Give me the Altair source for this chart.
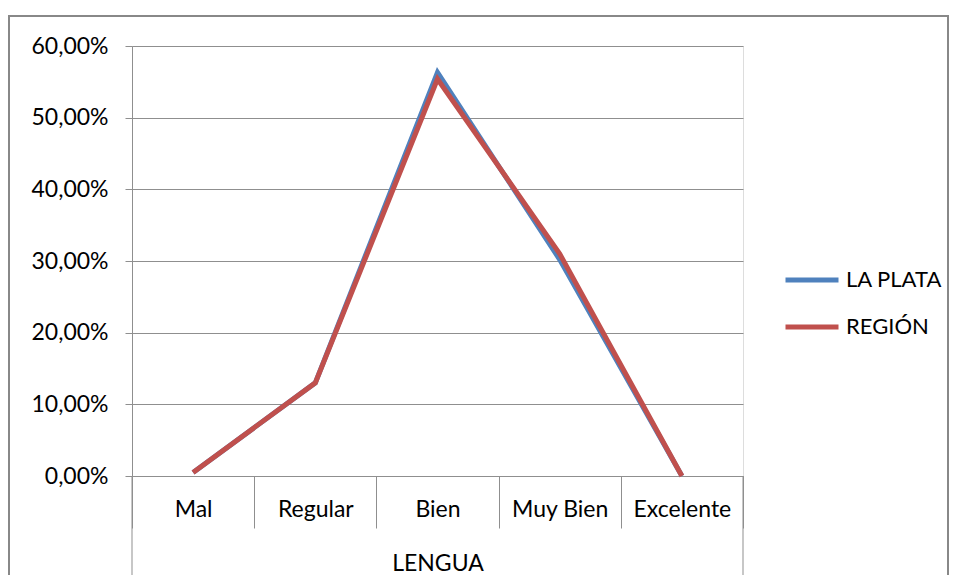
import altair as alt
import pandas as pd

categories = ["Mal", "Regular", "Bien", "Muy Bien", "Excelente"]
series_names = ["LA PLATA", "REGIÓN"]
la_plata = [0.5, 13.0, 56.3, 30.2, 0.0]
region = [0.5, 13.0, 55.4, 31.0, 0.0]
y_ticks = [0, 10, 20, 30, 40, 50, 60]
x_title = "LENGUA"

rows = []
for name, vals in zip(series_names, [la_plata, region]):
    for c, v in zip(categories, vals):
        rows.append({"cat": c, "serie": name, "val": v})
df = pd.DataFrame(rows)

W, H = 611, 430
PAD = {"left": 124, "top": 38, "right": 206, "bottom": 99}
FONT = "Lato"
FS = 23
GRAY = "#8f8f8f"

x_enc = alt.X(
    "cat:N",
    sort=categories,
    scale=alt.Scale(type="band", paddingInner=0, paddingOuter=0),
    axis=alt.Axis(
        title=x_title,
        labelAngle=0,
        tickBand="extent",
        tickSize=52,
        tickColor=GRAY,
        domainColor=GRAY,
        labelPadding=-30,
        labelFont=FONT,
        labelFontSize=FS,
        labelColor="#000000",
        titleFont=FONT,
        titleFontSize=FS,
        titleFontWeight="normal",
        titleColor="#000000",
        titleY=87,
        titleBaseline="middle",
        grid=False,
    ),
)

y_enc = alt.Y(
    "val:Q",
    scale=alt.Scale(domain=[0, 60], nice=False),
    axis=alt.Axis(
        title=None,
        values=y_ticks,
        labelExpr="replace(format(datum.value, '.2f'), '.', ',') + '%'",
        tickSize=7,
        tickColor=GRAY,
        domainColor=GRAY,
        gridColor=GRAY,
        grid=True,
        labelPadding=17,
        labelFont=FONT,
        labelFontSize=FS,
        labelColor="#000000",
    ),
)

lines = alt.Chart(df).mark_line(strokeWidth=5, strokeJoin="miter").encode(
    x=x_enc,
    y=y_enc,
    color=alt.Color(
        "serie:N",
        sort=series_names,
        scale=alt.Scale(domain=series_names, range=["#4F81BD", "#C0504D"]),
        legend=alt.Legend(
            title=None,
            orient="none",
            legendX=651,
            legendY=205,
            symbolType="stroke",
            symbolSize=2809,
            symbolStrokeWidth=5,
            labelFont=FONT,
            labelFontSize=22,
            labelColor="#000000",
            labelOffset=5,
            rowPadding=7,
            padding=0,
        ),
    ),
    detail="serie:N",
)

one = pd.DataFrame({"k": [0]})
frame = alt.Chart(one).mark_rect(fillOpacity=0, stroke="#888888", strokeWidth=2).encode(
    x=alt.value(-123), x2=alt.value(W + PAD["right"] - 1),
    y=alt.value(-30), y2=alt.value(H + PAD["bottom"] + 20),
)
left_ext = alt.Chart(one).mark_rule(color=GRAY, strokeWidth=1).encode(
    x=alt.value(0), y=alt.value(H), y2=alt.value(H + PAD["bottom"]),
)
right_ext = alt.Chart(one).mark_rule(color=GRAY, strokeWidth=1).encode(
    x=alt.value(W), y=alt.value(H), y2=alt.value(H + PAD["bottom"]),
)

chart = alt.layer(frame, left_ext, right_ext, lines).properties(
    width=W, height=H,
    autosize=alt.AutoSizeParams(type="none"),
    padding=PAD,
).configure_view(stroke=None).configure(background="white")

chart.save("out.html", embed_options={"renderer": "svg", "actions": False})
